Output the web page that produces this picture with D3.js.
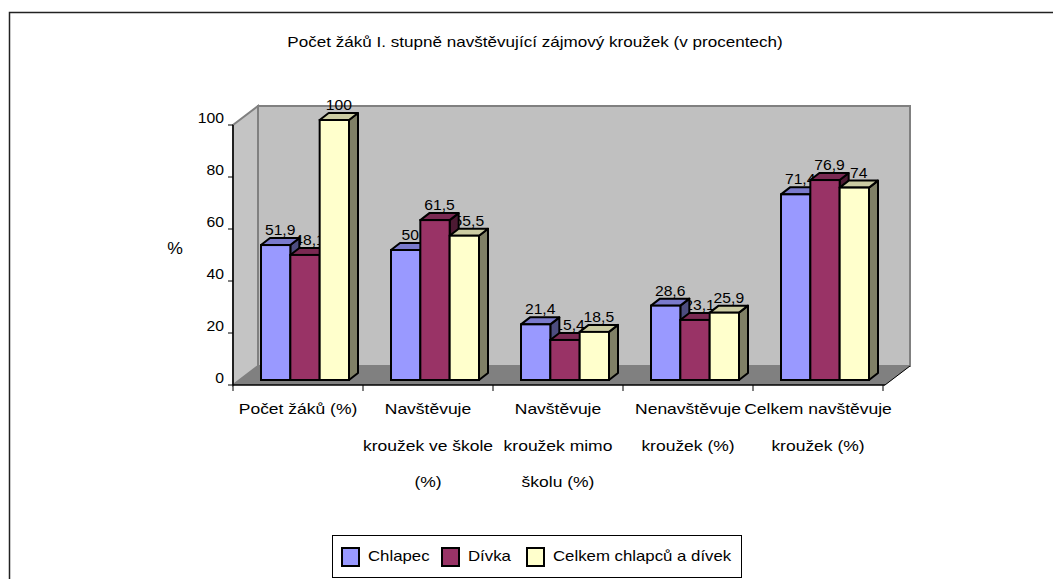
<!DOCTYPE html>
<html>
<head>
<meta charset="utf-8">
<script src="https://cdn.jsdelivr.net/npm/d3@7"></script>
<style>
  body { margin: 0; background: #fff; }
  svg text { font-family: "Liberation Sans", Arial, sans-serif; fill: #000; }
</style>
</head>
<body>
<div id="chart"></div>
<script>
// 3D clustered column chart, Excel style

// data
var categories = [
    ["Počet žáků (%)"],
    ["Navštěvuje", "kroužek ve škole", "(%)"],
    ["Navštěvuje", "kroužek mimo", "školu (%)"],
    ["Nenavštěvuje", "kroužek (%)"],
    ["Celkem navštěvuje", "kroužek (%)"]
];
var seriesNames = ["Chlapec", "Dívka", "Celkem chlapců a dívek"];
var chlapec = [51.9, 50, 21.4, 28.6, 71.4];
var divka = [48.1, 61.5, 15.4, 23.1, 76.9];
var celkem = [100, 55.5, 18.5, 25.9, 74];
var yTicks = [0, 20, 40, 60, 80, 100];
var seriesColors = ["#9999FF", "#993366", "#FFFFCC"];

var chart = {};
chart.width = 1053;
chart.height = 579;

// plot geometry
chart.left = 233;
chart.right = 883;
chart.zeroY = 385;
chart.topY = 125;
chart.depthX = 25;     // depth of the floor
chart.depthY = -19;
chart.barShiftX = 7;   // bars sit a bit back in depth
chart.barShiftY = -5;
chart.barDX = 9;       // depth of one bar
chart.barDY = -7;

// the text in the original is a bit wider than normal
function stretch(x, y, sx) {
    return "translate(" + x + "," + y + ") scale(" + sx + ",1)";
}

var svg = d3.select("#chart")
    .append("svg")
    .attr("width", chart.width)
    .attr("height", chart.height);

// outer border of the chart area
svg.append("rect")
    .attr("x", 9.5).attr("y", 12.5)
    .attr("width", 1100).attr("height", 700)
    .attr("fill", "#fff")
    .attr("stroke", "#222")
    .attr("stroke-width", 1.5);

// title
svg.append("text")
    .attr("transform", stretch(535, 47, 1.22))
    .attr("text-anchor", "middle")
    .attr("font-size", "14px")
    .text("Počet žáků I. stupně navštěvující zájmový kroužek (v procentech)");

// scales
var yScale = d3.scaleLinear()
    .domain([0, 100])
    .range([chart.zeroY, chart.topY]);

var catNames = categories.map(function(c) { return c.join(" "); });
var x0 = d3.scaleBand()
    .domain(catNames)
    .range([chart.left, chart.right]);

var x1 = d3.scaleBand()
    .domain(seriesNames)
    .range([21, 109]);

var dx = chart.depthX, dy = chart.depthY;
var L = chart.left, R = chart.right + 2, Z = chart.zeroY, T = chart.topY;

// floor
svg.append("polygon")
    .attr("points", [[L, Z], [R, Z], [R + dx, Z + dy], [L + dx, Z + dy]].join(" "))
    .attr("fill", "#808080");

// left wall
svg.append("polygon")
    .attr("points", [[L, Z], [L, T], [L + dx, T + dy], [L + dx, Z + dy]].join(" "))
    .attr("fill", "#C4C4C4")
    .attr("stroke", "#808080")
    .attr("stroke-width", 2);

// back wall
svg.append("rect")
    .attr("x", L + dx).attr("y", T + dy)
    .attr("width", R - L)
    .attr("height", Z - T)
    .attr("fill", "#C0C0C0")
    .attr("stroke", "#808080")
    .attr("stroke-width", 2);

// floor again so it covers the bottom of the walls
svg.append("polygon")
    .attr("points", [[L + 1, Z], [R, Z], [R + dx, Z + dy], [L + dx + 1, Z + dy]].join(" "))
    .attr("fill", "#808080");

// right edge of the floor
svg.append("line")
    .attr("x1", R).attr("y1", Z)
    .attr("x2", R + dx).attr("y2", Z + dy)
    .attr("stroke", "#000").attr("stroke-width", 1);

// y axis
var yAxis = svg.append("g").attr("class", "y axis");
yAxis.append("line")
    .attr("x1", L).attr("x2", L)
    .attr("y1", T).attr("y2", Z)
    .attr("stroke", "#000").attr("stroke-width", 1.5);
yAxis.selectAll(".tick")
    .data(yTicks)
    .enter().append("line")
    .attr("x1", L - 5).attr("x2", L)
    .attr("y1", function(d) { return yScale(d); })
    .attr("y2", function(d) { return yScale(d); })
    .attr("stroke", "#000");
yAxis.selectAll(".tlabel")
    .data(yTicks)
    .enter().append("text")
    .attr("transform", function(d) { return stretch(L - 9, yScale(d) - 2, 1.05); })
    .attr("text-anchor", "end")
    .attr("font-size", "15px")
    .text(function(d) { return d; });

svg.append("text")
    .attr("transform", stretch(175, 254, 1.1))
    .attr("text-anchor", "middle")
    .attr("font-size", "16px")
    .text("%");

// x axis
var xAxis = svg.append("g").attr("class", "x axis");
xAxis.append("line")
    .attr("x1", L).attr("x2", R)
    .attr("y1", Z).attr("y2", Z)
    .attr("stroke", "#000").attr("stroke-width", 1.5);
var bounds = catNames.map(function(c) { return x0(c); }).concat([chart.right]);
xAxis.selectAll(".tick")
    .data(bounds)
    .enter().append("line")
    .attr("x1", function(d) { return d; })
    .attr("x2", function(d) { return d; })
    .attr("y1", Z).attr("y2", Z + 6)
    .attr("stroke", "#000");
categories.forEach(function(lines, i) {
    var cx = x0(catNames[i]) + x0.bandwidth() / 2;
    lines.forEach(function(line, j) {
        xAxis.append("text")
            .attr("transform", stretch(cx, 414 + j * 36.5, 1.25))
            .attr("text-anchor", "middle")
            .attr("font-size", "14px")
            .text(line);
    });
});

// build bar records
var values = [chlapec, divka, celkem];
var bars = [];
categories.forEach(function(c, i) {
    seriesNames.forEach(function(s, k) {
        bars.push({ cat: catNames[i], series: s, k: k, value: values[k][i] });
    });
});

function fmt(v) { return String(v).replace(".", ","); }

// value labels (drawn first: the bars overlap them as in the original)
svg.selectAll(".vlabel")
    .data(bars)
    .enter().append("text")
    .attr("class", "vlabel")
    .attr("transform", function(d) {
        var x = x0(d.cat) + x1(d.series) + chart.barShiftX + x1.bandwidth() / 2 + chart.barDX / 2;
        var y = yScale(d.value) + chart.barShiftY + chart.barDY - 3;
        return stretch(x, y, 1.12);
    })
    .attr("text-anchor", "middle")
    .attr("font-size", "14px")
    .text(function(d) { return fmt(d.value); });

// bars, each one a front face, a top face and a side face
function shade(c, f) {
    var col = d3.rgb(c);
    return d3.rgb(col.r * f, col.g * f, col.b * f).toString();
}

var barG = svg.selectAll(".bar")
    .data(bars)
    .enter().append("g")
    .attr("class", "bar");

barG.each(function(d) {
    var g = d3.select(this);
    var x = x0(d.cat) + x1(d.series) + chart.barShiftX;
    var w = x1.bandwidth();
    var yb = Z + chart.barShiftY;
    var yt = yScale(d.value) + chart.barShiftY;
    var bx = chart.barDX, by = chart.barDY;
    var col = seriesColors[d.k];

    g.append("polygon")
        .attr("points", [[x + w, yb], [x + w, yt], [x + w + bx, yt + by], [x + w + bx, yb + by]].join(" "))
        .attr("fill", shade(col, 0.5))
        .attr("stroke", "#000").attr("stroke-width", 2)
        .attr("stroke-linejoin", "round");
    g.append("polygon")
        .attr("points", [[x, yt], [x + w, yt], [x + w + bx, yt + by], [x + bx, yt + by]].join(" "))
        .attr("fill", shade(col, 0.8))
        .attr("stroke", "#000").attr("stroke-width", 2)
        .attr("stroke-linejoin", "round");
    g.append("rect")
        .attr("x", x).attr("y", yt)
        .attr("width", w).attr("height", yb - yt)
        .attr("fill", col)
        .attr("stroke", "#000").attr("stroke-width", 2);
});

// legend
var legend = svg.append("g").attr("class", "legend");
legend.append("rect")
    .attr("x", 332.5).attr("y", 535.5)
    .attr("width", 409).attr("height", 42)
    .attr("fill", "#fff")
    .attr("stroke", "#000").attr("stroke-width", 1);
var legendX = [342, 442, 527];
seriesNames.forEach(function(s, k) {
    legend.append("rect")
        .attr("x", legendX[k]).attr("y", 548)
        .attr("width", 17).attr("height", 18)
        .attr("fill", seriesColors[k])
        .attr("stroke", "#000").attr("stroke-width", 2);
    legend.append("text")
        .attr("transform", stretch(legendX[k] + 26, 561, 1.2))
        .attr("font-size", "14px")
        .text(s);
});
</script>
</body>
</html>
